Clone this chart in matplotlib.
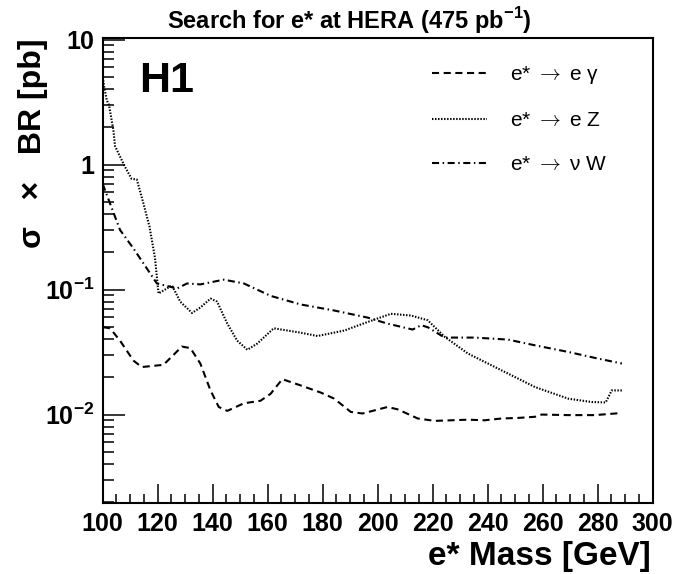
import matplotlib.pyplot as plt
import numpy as np
from matplotlib.font_manager import FontProperties
from matplotlib.ticker import FixedLocator, LogLocator, MultipleLocator, NullFormatter

plt.rcParams['font.family'] = ['Liberation Sans', 'DejaVu Sans']
plt.rcParams['mathtext.fontset'] = 'custom'
plt.rcParams['mathtext.rm'] = 'Liberation Sans'
plt.rcParams['mathtext.bf'] = 'Liberation Sans:bold'

# e* -> e gamma
m_eg = [100.2, 102.7, 106.3, 111.2, 114.2, 122.1, 128.8, 131.9, 135.5, 139.2, 142.2,
        145.3, 151.3, 157.4, 161.1, 165.3, 172.0, 179.3, 184.2, 190.2, 194.5, 203.6,
        207.3, 214.6, 220.7, 232.8, 238.9, 245.0, 251.1, 257.2, 259.6, 269.3, 279.0, 288.8]
xs_eg = [0.050, 0.049, 0.039, 0.027, 0.024, 0.025, 0.035, 0.034, 0.0256, 0.0156, 0.0115,
         0.0107, 0.0123, 0.0129, 0.0147, 0.0192, 0.0171, 0.0150, 0.0134, 0.0105, 0.0102, 0.0115,
         0.0110, 0.0093, 0.0089, 0.0091, 0.0090, 0.0093, 0.0094, 0.0096, 0.0100, 0.0099, 0.0099, 0.0103]

# e* -> e Z
m_ez = [100.0, 100.8, 101.5, 102.3, 103.9, 104.5, 108.1, 110.5, 112.4, 114.8, 117.0, 119.0,
        120.3, 125.2, 128.2, 132.5, 135.5, 139.2, 141.6, 145.3, 148.9, 152.6, 156.2, 162.2,
        172.0, 178.1, 187.8, 196.3, 204.8, 212.1, 218.2, 224.3, 232.8, 245.0, 257.2, 269.3,
        277.8, 282.9, 285.1, 288.8]
xs_ez = [5.0, 3.9, 3.27, 3.0, 1.88, 1.40, 0.96, 0.77, 0.76, 0.49, 0.32, 0.18,
         0.093, 0.108, 0.080, 0.065, 0.0718, 0.0847, 0.080, 0.0535, 0.039, 0.033, 0.037, 0.049,
         0.0452, 0.0425, 0.047, 0.055, 0.064, 0.062, 0.0568, 0.042, 0.0308, 0.0226, 0.0166, 0.0134,
         0.0126, 0.0125, 0.0156, 0.0156]

# e* -> nu W
m_nw = [100.0, 100.9, 106.3, 111.2, 119.7, 127.0, 130.7, 135.5, 144.0, 151.3, 161.1, 172.0,
        184.2, 196.3, 203.6, 212.7, 215.8, 218.2, 224.3, 235.2, 247.4, 257.2, 269.3, 279.0, 288.8]
xs_nw = [0.70, 0.62, 0.30, 0.213, 0.112, 0.102, 0.112, 0.110, 0.120, 0.112, 0.089, 0.076,
         0.068, 0.0597, 0.0534, 0.0479, 0.0518, 0.050, 0.0413, 0.0413, 0.0398, 0.0358, 0.0317, 0.0284, 0.0256]

labels = [r'e* $\rightarrow$ e γ', r'e* $\rightarrow$ e Z', r'e* $\rightarrow$ ν W']
ytick_vals = [0.01, 0.1, 1, 10]
ytick_text = [r'$\mathbf{10^{-2}}$', r'$\mathbf{10^{-1}}$', '1', '10']

W, H = 698, 574
fig = plt.figure(figsize=(W / 100, H / 100), dpi=100)
ax = fig.add_axes([102.7 / W, 1 - 503.3 / H, 550 / W, 465.3 / H])

ax.plot(m_eg, xs_eg, color='black', lw=1.5, dashes=(3.4, 2.2), label=labels[0])
ax.plot(m_ez, xs_ez, color='black', lw=1.5, dashes=(0.7, 0.75), label=labels[1])
ax.plot(m_nw, xs_nw, color='black', lw=1.5, dashes=(3.4, 1.7, 0.7, 1.7), label=labels[2])

ax.set_yscale('log')
ax.set_xlim(100, 300)
ax.set_ylim(0.00195, 10.3)

ax.xaxis.set_major_locator(MultipleLocator(20))
ax.xaxis.set_minor_locator(MultipleLocator(5))
ax.yaxis.set_major_locator(FixedLocator(ytick_vals))
ax.yaxis.set_minor_locator(LogLocator(base=10, subs=np.arange(2, 10)))
ax.yaxis.set_minor_formatter(NullFormatter())
ax.set_yticklabels(ytick_text)

ax.tick_params(axis='both', which='both', direction='in', top=False, right=False,
               width=1.1, labelsize=18, pad=6)
ax.tick_params(axis='y', which='major', length=15.6)
ax.tick_params(axis='y', which='minor', length=7.7)
ax.tick_params(axis='x', which='major', length=13.5)
ax.tick_params(axis='x', which='minor', length=6.7)
for lab in ax.get_xticklabels() + ax.get_yticklabels():
    lab.set_fontweight('bold')
for s in ax.spines.values():
    s.set_linewidth(1.5)

# axis titles, title and experiment tag
fig.text(651 / W, 1 - 565 / H, 'e* Mass [GeV]', fontsize=24, fontweight='bold',
         ha='right', va='baseline')
fig.text(48 / W, 1 - 38 / H, 'σ   ×   BR [pb]', fontsize=23, fontweight='bold',
         rotation=90, ha='right', va='top')
fig.text(0.5, 1 - 29 / H, 'Search for e* at HERA (475 pb$^{\\mathbf{-1}}$)', fontsize=17,
         fontweight='bold', ha='center', va='baseline')
ax.text(0.066, 0.8846, 'H1', transform=ax.transAxes, fontsize=31, fontweight='bold',
        va='baseline', ha='left')

leg_font = FontProperties(family=['Liberation Sans', 'DejaVu Sans'], size=15,
                          math_fontfamily='cm')
ax.legend(loc='upper left', bbox_to_anchor=(432 / W, 1 - 64 / H),
          bbox_transform=fig.transFigure, frameon=False, prop=leg_font,
          borderpad=0, borderaxespad=0, handlelength=2.65, handletextpad=1.1,
          labelspacing=1.2)

fig.savefig('out.png', dpi=100)
